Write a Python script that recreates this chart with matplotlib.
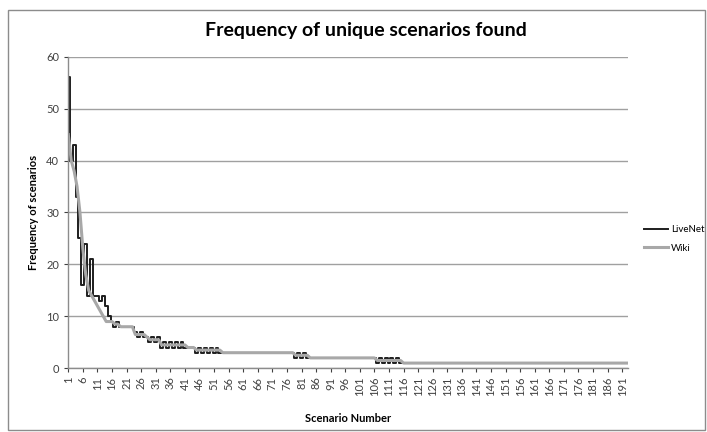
import numpy as np
import matplotlib.pyplot as plt
from matplotlib.patches import Rectangle

plt.rcParams['font.family'] = ['Lato', 'DejaVu Sans']

n_scenarios = 193
scenario = np.arange(1, n_scenarios + 1)

# LiveNet frequencies: the steep head, then the alternating stretches
livenet_head = [56, 40, 43, 33, 25, 16, 24, 14, 21, 14, 14, 13, 14, 12, 10,
                9, 8, 9, 8, 8, 8, 8, 8, 7, 6, 7, 6, 6]
livenet_tail = ([5, 6, 5, 6] +
                [4, 5, 4, 5, 4, 5, 4, 5, 4] + [4] * 3 +
                [3, 4, 3, 4, 3, 4, 3, 4, 3] + [3] * 25 +
                [2, 3, 2, 3, 2] + [2] * 23 +
                [1, 2, 1, 2, 1, 2, 1, 2, 1] + [1] * 78)
livenet = livenet_head + livenet_tail

# Wiki frequencies (averaged, so half values where LiveNet alternates)
wiki_head = [45, 40, 38, 35, 30, 23, 18, 15, 14, 13, 12, 11, 10, 9, 9, 9]
wiki_tail = ([8.5] * 2 + [8] * 5 + [6.5] * 4 + [6] * 1 + [5.5] * 4 +
             [4.5] * 9 + [4] * 3 + [3.5] * 9 + [3] * 25 + [2.5] * 5 +
             [2] * 23 + [1.5] * 9 + [1] * 78)
wiki = wiki_head + wiki_tail

xtick_labels = scenario[::5]

fig = plt.figure(figsize=(7.07, 4.32), dpi=100)
fig.patch.set_facecolor('white')
fig.patches.append(Rectangle((8 / 707, 2 / 432), 697 / 707, 420 / 432,
                             transform=fig.transFigure, fill=False,
                             edgecolor='#8c8c8c', linewidth=1.0))

ax = fig.add_axes([0.0966, 0.1475, 0.7917, 0.7213])
ax.plot(scenario, livenet, color='#1e1e1e', linewidth=1.4, label='LiveNet',
        drawstyle='steps-mid')
ax.plot(scenario, wiki, color='#a8a8a8', linewidth=2.2, label='Wiki')

ax.set_xlim(1, n_scenarios)
ax.set_ylim(0, 60)
ax.set_yticks(range(0, 61, 10))
ax.set_xticks(xtick_labels)
ax.set_xticklabels([str(v) for v in xtick_labels], rotation=90)
ax.tick_params(axis='both', labelsize=8, colors='#404040', length=3,
               width=0.8, direction='out')
ax.tick_params(axis='x', pad=3)
ax.grid(axis='y', color='#a0a0a0', linewidth=1.0)
ax.set_axisbelow(True)
for side in ('top', 'right'):
    ax.spines[side].set_visible(False)
for side in ('left', 'bottom'):
    ax.spines[side].set_color('#8c8c8c')
    ax.spines[side].set_linewidth(1.0)

ax.set_ylabel('Frequency of scenarios', fontsize=8, fontweight='bold',
              labelpad=5)
ax.set_xlabel('Scenario Number', fontsize=8, fontweight='bold', labelpad=12)
fig.text(0.518, 0.93, 'Frequency of unique scenarios found', ha='center',
         va='center', fontsize=14, fontweight='bold')

ax.legend(loc='center left', bbox_to_anchor=(644 / 707, 1 - 239 / 432),
          bbox_transform=fig.transFigure, frameon=False, fontsize=7,
          handlelength=2.5, handletextpad=0.25, labelspacing=1.0,
          borderpad=0, borderaxespad=0)

fig.savefig('out.png', dpi=100)
